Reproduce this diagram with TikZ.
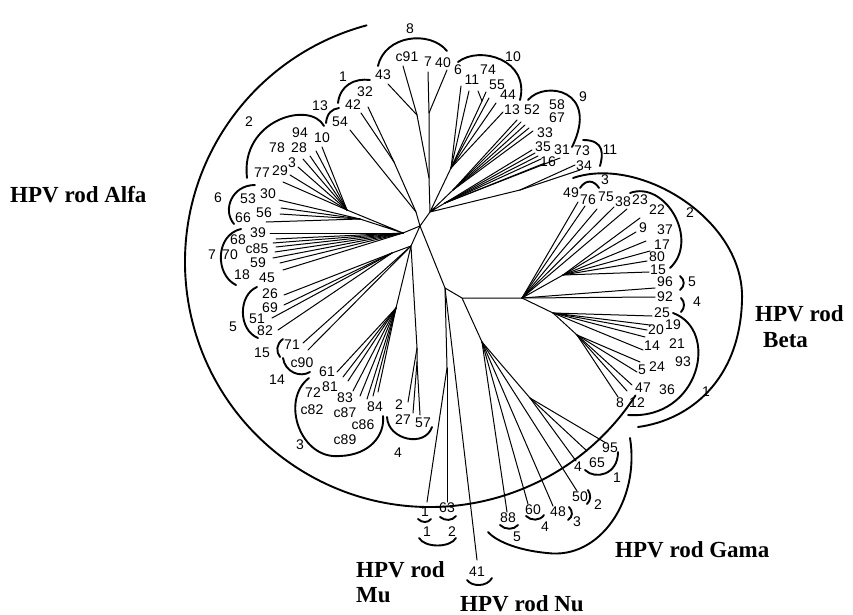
\documentclass[tikz,border=0pt]{standalone}
\usepackage{fontspec}
\setmainfont{Liberation Serif}
\newfontfamily\numf{Liberation Sans}
\newcommand\myfan[3]{\foreach \x/\y [count=\i] in {#3} {\coordinate (#2\i) at (\x,\y); \draw[br] (#1) -- (#2\i);}}
\newcommand\mylabels[2]{\foreach \t/\x/\y [count=\i] in {#2} {\node[num] (#1\i) at (\x,\y) {\t};}}
\begin{document}
\begin{tikzpicture}[x=1pt,y=-1pt,
  br/.style={line width=1pt,line cap=round},
  grp/.style={line width=1.9pt,line cap=round},
  num/.style={font=\numf\fontsize{14}{14}\selectfont,inner sep=0pt},
  big/.style={font=\bfseries\fontsize{23}{26}\selectfont,inner sep=0pt,align=left}]
\useasboundingbox (0,0) rectangle (853,615);
% hubs
\coordinate (C) at (420,226);
\coordinate (T) at (430,212);
\coordinate (J40) at (429,113);
\coordinate (J7) at (429,178);
\coordinate (top7) at (428,72);
\coordinate (A8) at (417,115);
\coordinate (H10) at (451,168);
\coordinate (F74) at (482,101);
\coordinate (H9) at (453,190);
\coordinate (H16) at (445,203);
\coordinate (H11) at (520,190);
\coordinate (U) at (416,212);
\coordinate (H1) at (394,162);
\coordinate (H2) at (347,210);
\coordinate (H6) at (360,219);
\coordinate (L) at (403,233);
\coordinate (LL) at (411,246);
\coordinate (H5) at (392,253);
\coordinate (J57) at (417,348);
\coordinate (J27) at (417,362);
\coordinate (H3) at (396,308);
\coordinate (J1) at (445,288);
\coordinate (J2) at (462,298);
\coordinate (B) at (522,298);
\coordinate (BU2) at (563,275);
\coordinate (BL) at (553,313);
\coordinate (BL2) at (577,335);
\coordinate (G) at (482,342);
\coordinate (G2) at (530,398);
\coordinate (MuH) at (447,368);
% backbone
\draw[br] (C) -- (T) -- (J7) -- (J40) -- (top7);
\draw[br] (J7) -- (A8);
\draw[br] (T) -- (H10) (T) -- (H9) (T) -- (H16) (T) -- (H11);
\draw[br] (H10) -- (F74);
\draw[br] (C) -- (U) -- (H1);
\draw[br] (C) -- (L) (L) -- (H2) (L) -- (H6);
\draw[br] (C) -- (LL) -- (H5) (LL) -- (H3) (LL) -- (J57) -- (J27);
\draw[br] (C) -- (J1) -- (J2) -- (B) (J2) -- (G) (J1) -- (MuH);
\draw[br] (B) -- (BU2) (B) -- (BL) -- (BL2) (G) -- (G2);
% leaves
\myfan{J40}{a}{447/70}
\myfan{A8}{b}{403/66,388/84}
\myfan{H10}{c}{461/86,469/91,489/98,496/103,503/112}
\myfan{F74}{d}{478/91,486/92}
\myfan{H9}{e}{517/120,521/122,525/125,529/128,533/131}
\myfan{H16}{f}{532/150,535/153,538/156,541/159,545/163,560/158}
\myfan{H11}{g}{575/165,580/170}
\myfan{U}{h}{350/130}
\myfan{H1}{k}{361/113,368/107}
\myfan{H2}{m}{322/147,316/151,310/156,303/159,298/167,290/175,283/182}
\myfan{H6}{n}{279/200,281/208,280/214,266/222}
\myfan{L}{o}{270/233,276/239,273/243,276/247,275/252,273/258,280/263,283/270}
\myfan{H5}{p}{284/295,284/305,272/318,278/330}
\myfan{LL}{q}{303/343,308/350}
\myfan{J57}{r}{408/402}
\myfan{J27}{s}{413/413,420/415}
\myfan{H3}{t}{337/372,343/377,348/381,353/391,360/396,367/399,373/396,378/392}
\myfan{B}{u}{578/202,585/206,597/209,614/207,627/209,655/288,655/297}
\myfan{BU2}{v}{640/218,636/232,646/241,650/251,647/261,649/272}
\myfan{BL}{w}{652/316,650/325,647/330,645/337,643/350}
\myfan{BL2}{z}{640/362,637/372,632/385,627/391,618/397}
\myfan{G}{ga}{507/512,528/504,553/506,577/491}
\myfan{G2}{gb}{576/461,587/451,606/443}
\myfan{MuH}{mu}{427/502,447/502}
\myfan{J1}{nu}{477/560}
% group arcs Alfa
\draw[grp] (378,66) .. controls (385,35) and (430,30) .. (447,51);
\draw[grp] (338,103) .. controls (340,85) and (355,78) .. (370,80);
\draw[grp] (326,123) .. controls (327,113) and (332,109) .. (339,108);
\draw[grp] (247,178) .. controls (240,120) and (310,100) .. (324,126);
\draw[grp] (458,62) .. controls (480,45) and (530,60) .. (520,100);
\draw[grp] (528,100) .. controls (545,80) and (600,90) .. (572,147);
\draw[grp] (583,140) .. controls (605,140) and (603,155) .. (600,166);
\draw[grp] (255,185) .. controls (232,185) and (222,210) .. (234,224);
\draw[grp] (241,229) .. controls (215,235) and (215,275) .. (236,285);
\draw[grp] (257,287) .. controls (238,295) and (238,330) .. (258,338);
\draw[grp] (283,339) .. controls (276,344) and (276,352) .. (280,357);
\draw[grp] (283,358) .. controls (285,372) and (300,378) .. (310,372);
\draw[grp] (309,378) .. controls (280,400) and (300,460) .. (340,456) .. controls (370,455) and (385,435) .. (383,416);
\draw[grp] (387,417) .. controls (388,440) and (425,448) .. (432,427);
% Beta small arcs
\draw[grp] (580,188) .. controls (586,179) and (594,180) .. (599,188);
\draw[grp] (630,193) .. controls (665,180) and (700,240) .. (670,268);
\draw[grp] (680,276) .. controls (685,280) and (685,286) .. (680,290);
\draw[grp] (681,298) .. controls (685,302) and (685,308) .. (681,312);
\draw[grp] (673,313) .. controls (720,330) and (700,420) .. (628,415);
% Gamma small arcs
\draw[grp] (500,525) .. controls (505,530) and (514,530) .. (518,525);
\draw[grp] (526,516) .. controls (531,521) and (540,521) .. (544,515);
\draw[grp] (569,507) .. controls (573,511) and (573,517) .. (568,520);
\draw[grp] (588,490) .. controls (591,495) and (591,500) .. (587,504);
\draw[grp] (585,470) .. controls (595,480) and (618,475) .. (618,452);
% Mu, Nu arcs
\draw[grp] (418,519) .. controls (422,523) and (428,523) .. (431,519);
\draw[grp] (440,517) .. controls (445,521) and (452,521) .. (456,516);
\draw[grp] (419,538) .. controls (425,548) and (450,548) .. (456,538);
\draw[grp] (467,580) .. controls (472,587) and (487,587) .. (492,578);
% big clade arcs
\draw[grp] (430,262) ++(33:245) arc[start angle=33,end angle=255,radius=245];
\draw[grp] (573,178) .. controls (640,155) and (745,220) .. (742,300) .. controls (740,380) and (690,420) .. (638,427);
\draw[grp] (630,438) .. controls (640,500) and (600,560) .. (547,553) .. controls (515,550) and (495,540) .. (488,532);
% labels
\mylabels{la}{8/410/29,c91/407/57,7/428/62,40/443/63,43/383/75,10/513/57,6/458/70,11/472/80,74/488/70,55/497/85,44/508/95,13/512/110,9/583/97,52/532/110,58/557/105,67/557/118,33/545/133,35/543/147,31/562/150,16/548/162,11/610/150,73/582/151,34/584/166,1/343/77,32/365/92,42/353/105,54/340/122,13/320/106,2/249/122,94/300/133,10/322/138,78/277/148,28/299/148,3/292/163,77/262/173,29/280/171,6/218/198,53/248/199,30/268/194,66/243/218,56/264/213,7/212/255,39/258/233,68/238/240,70/230/255,c85/257/249,59/258/263,18/242/275,45/267/278,5/233/327,26/270/294,69/270/308,51/257/319,82/265/331,15/262/353,71/292/345,14/277/380,c90/302/363,61/327/372,72/313/393,81/330/387,83/345/398,c82/312/410,c87/345/413,84/375/407,c86/363/425,c89/345/440,3/300/445,2/399/405,27/403/420,57/423/423,4/398/453}
\mylabels{lb}{3/605/180,49/571/193,76/588/200,75/606/197,38/623/202,23/640/200,22/657/210,2/690/213,9/643/228,37/665/230,17/662/245,80/657/257,15/658/270,96/665/282,92/665/297,5/692/282,4/697/302,25/662/313,20/656/330,19/673/325,14/652/346,21/677/344,24/657/367,5/642/370,93/683/362,47/643/388,36/667/390,8/620/403,12/637/403,1/706/392}
\mylabels{lg}{95/610/448,65/597/463,4/578/467,1/617/478,50/580/497,2/598/505,88/508/518,5/517/537,60/533/510,4/545/527,48/558/512,3/577/522,1/425/512,63/447/508,1/427/532,2/452/532,41/477/572}
\node[big,anchor=west] (alfa) at (10,195) {HPV rod Alfa};
\node[big,anchor=north west] (beta) at (755,305) {HPV rod\\\hspace*{8pt}Beta};
\node[big,anchor=west] (gama) at (615,550) {HPV rod Gama};
\node[big,anchor=base west] (mu) at (356,577) {HPV rod};
\node[big,anchor=base west] (mu2) at (356,602) {Mu};
\node[big,anchor=base west] (nu) at (460,611) {HPV rod Nu};
\end{tikzpicture}
\end{document}
